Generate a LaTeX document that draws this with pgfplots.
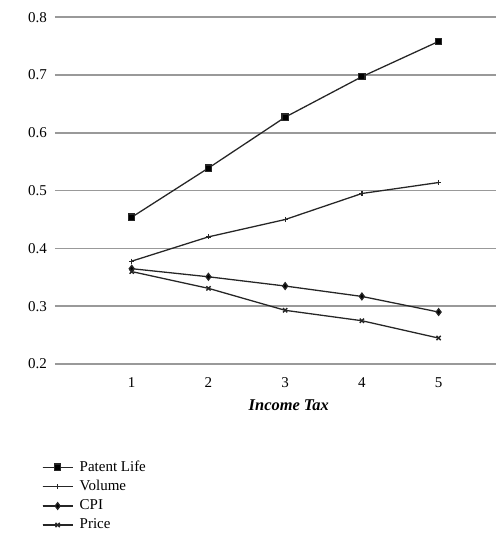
\documentclass[border=0pt]{standalone}
\usepackage{fontspec}
\setmainfont{Liberation Serif}
\usepackage{pgfplots}
\pgfplotsset{compat=1.18}
\begin{document}
\fontsize{10.5}{12.5}\selectfont
\begin{tikzpicture}
\begin{axis}[
  scale only axis,
  width=309pt, height=243pt,
  at={(0,0)}, anchor=south west,
  xmin=0, xmax=5.75,
  ymin=0.2, ymax=0.8,
  axis line style={draw=none},
  major tick length=0pt,
  ytick={0.2,0.3,0.4,0.5,0.6,0.7,0.8},
  xtick={1,2,3,4,5},
  ymajorgrids,
  grid style={gray!80, line width=1.2pt},
  /pgf/number format/assume math mode=true,
  yticklabel style={/pgf/number format/fixed,/pgf/number format/precision=1,/pgf/number format/fixed zerofill, xshift=-2pt},
  xticklabel style={yshift=-6pt},
  tick label style={font=\fontsize{10.5}{12}\selectfont},
  xlabel={\textbf{\textit{Income Tax}}},
  xlabel style={at={(axis description cs:0.53,0)}, anchor=center, yshift=-29pt, font=\fontsize{11.5}{13}\selectfont},
  clip=false,
  legend style={at={(axis description cs:-0.03,0)}, anchor=north west, yshift=-66pt, draw=none, fill=none,
    font=\fontsize{10.5}{13}\selectfont, row sep=1.8pt, inner sep=0pt,
    nodes={inner sep=1.5pt}},
  legend cell align=left,
  legend image code/.code={\draw[#1] (0pt,0pt) -- (21pt,0pt); \draw[#1,mark repeat=2,mark phase=2] plot coordinates {(0pt,0pt) (10.5pt,0pt) (21pt,0pt)};},
  every axis plot/.append style={black!85, line width=0.9pt},
]
\addplot+[black!85, mark=square*, mark size=2.2pt, mark options={solid,fill=black}] coordinates {(1,0.454) (2,0.539) (3,0.627) (4,0.697) (5,0.758)};
\addlegendentry{\hspace{3pt}Patent Life}
\addplot+[black!85, mark=+, mark size=1.8pt, mark options={solid}] coordinates {(1,0.378) (2,0.420) (3,0.450) (4,0.495) (5,0.514)};
\addlegendentry{\hspace{3pt}Volume}
\addplot+[black!85, mark=diamond*, mark size=2.3pt, mark options={solid,fill=black}] coordinates {(1,0.365) (2,0.351) (3,0.335) (4,0.317) (5,0.290)};
\addlegendentry{\hspace{3pt}CPI}
\addplot+[black!85, mark=x, mark size=2.1pt, mark options={solid, line width=1pt}] coordinates {(1,0.360) (2,0.331) (3,0.293) (4,0.275) (5,0.245)};
\addlegendentry{\hspace{3pt}Price}
\end{axis}
\pgfresetboundingbox
\path (-38.5pt,-119.7pt) rectangle (309pt,255pt);
\end{tikzpicture}
\end{document}
